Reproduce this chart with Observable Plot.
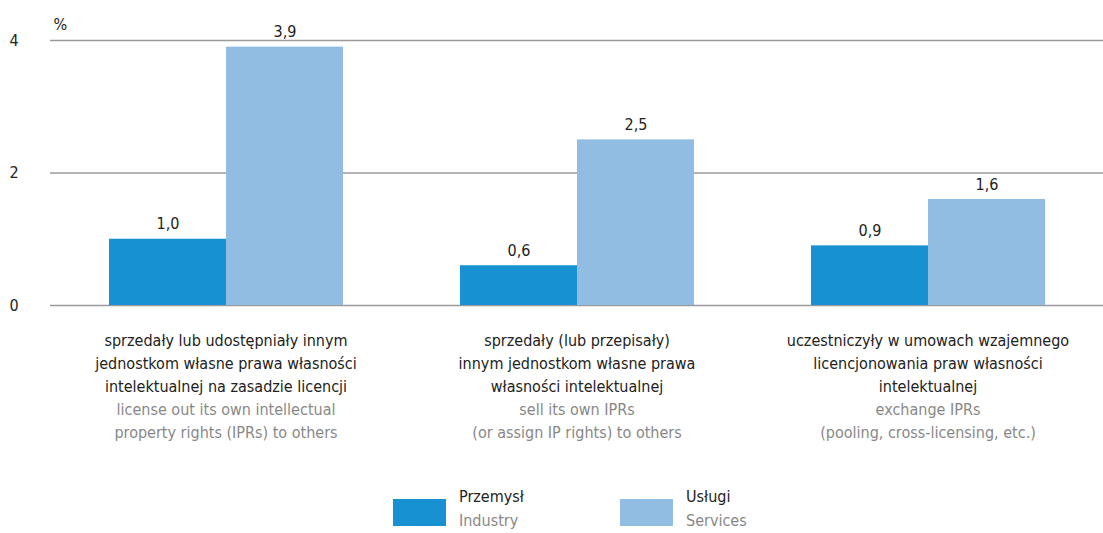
<!DOCTYPE html>
<html><head><meta charset="utf-8">
<script src="https://cdn.jsdelivr.net/npm/d3@7"></script>
<script src="https://cdn.jsdelivr.net/npm/@observablehq/plot@0.6"></script>
<style>
body{margin:0;background:#fff;font-family:"DejaVu Sans Condensed","DejaVu Sans",sans-serif;}
#wrap{position:relative;width:1103px;}
.legend{position:relative;height:73px;width:1103px;}
.item{position:absolute;top:25px;display:flex;align-items:flex-start;}
.sw{width:53px;height:27px;margin-top:14px;margin-right:13px;}
.lab{font-size:16px;line-height:24px;}
.lab .pl{color:#222}.lab .en{color:#888}
</style></head><body>
<div id="wrap"><div id="chart"></div>
<div class="legend" id="legend"></div></div>
<script>
const categoriesPL = [
  "sprzedały lub udostępniały innym\njednostkom własne prawa własności\nintelektualnej na zasadzie licencji",
  "sprzedały (lub przepisały)\ninnym jednostkom własne prawa\nwłasności intelektualnej",
  "uczestniczyły w umowach wzajemnego\nlicencjonowania praw własności\nintelektualnej"
];
const categoriesEN = [
  "license out its own intellectual\nproperty rights (IPRs) to others",
  "sell its own IPRs\n(or assign IP rights) to others",
  "exchange IPRs\n(pooling, cross-licensing, etc.)"
];
const seriesPL = ["Przemysł", "Usługi"];
const seriesEN = ["Industry", "Services"];
const industry = [1.0, 0.6, 0.9];
const services = [3.9, 2.5, 1.6];
const yTicks = [0, 2, 4];
const yUnit = "%";
const colors = ["#1891d3", "#92bde3"];

const data = categoriesPL.flatMap((c, i) => [
  {cat: c, series: seriesPL[0], value: industry[i]},
  {cat: c, series: seriesPL[1], value: services[i]}
]);
const cats = categoriesPL.map((c, i) => ({cat: c, pl: c, en: categoriesEN[i]}));
const fmt = v => v.toFixed(1).replace(".", ",");
const ff = '"DejaVu Sans Condensed","DejaVu Sans",sans-serif';

const chart = Plot.plot({
  width: 1103, height: 460,
  marginLeft: 49, marginRight: 0, marginTop: 40, marginBottom: 155,
  style: {fontFamily: ff, fontSize: "16px", color: "#222", background: "white"},
  fx: {domain: categoriesPL, padding: 0, axis: null, label: null},
  x: {domain: seriesPL, paddingInner: 0, paddingOuter: 0.5, axis: null},
  y: {domain: [0, 4], label: null},
  color: {domain: seriesPL, range: colors},
  marks: [
    Plot.gridY(yTicks, {stroke: "#9a9a9a", strokeOpacity: 1, strokeWidth: 1.5}),
    Plot.barY(data, {fx: "cat", x: "series", y: "value", fill: "series"}),
    Plot.text(data, {fx: "cat", x: "series", y: "value", text: d => fmt(d.value), dy: -15, fill: "#222", fontSize: 16}),
    Plot.axisY(yTicks, {tickSize: 0, textAnchor: "start", dx: -32, label: null, tickFormat: d => String(d), fontSize: 16, fill: "#222"}),
    Plot.text([yUnit], {text: d => d, frameAnchor: "top-left", textAnchor: "start", dx: 3, dy: -22, facetAnchor: "left", fill: "#222", fontSize: 16}),
    Plot.text(cats, {fx: "cat", text: "pl", frameAnchor: "bottom", lineAnchor: "top", dy: 24, lineHeight: 1.44, fill: "#222", fontSize: 16}),
    Plot.text(cats, {fx: "cat", text: "en", frameAnchor: "bottom", lineAnchor: "top", dy: 93, lineHeight: 1.44, fill: "#888", fontSize: 16})
  ]
});
document.getElementById("chart").appendChild(chart);

const legend = document.getElementById("legend");
const lefts = [393, 620];
seriesPL.forEach((s, i) => {
  const it = document.createElement("div");
  it.className = "item";
  it.style.left = lefts[i] + "px";
  it.innerHTML = `<div class="sw" style="background:${colors[i]}"></div><div class="lab"><div class="pl">${s}</div><div class="en">${seriesEN[i]}</div></div>`;
  legend.appendChild(it);
});
</script>
</body></html>
